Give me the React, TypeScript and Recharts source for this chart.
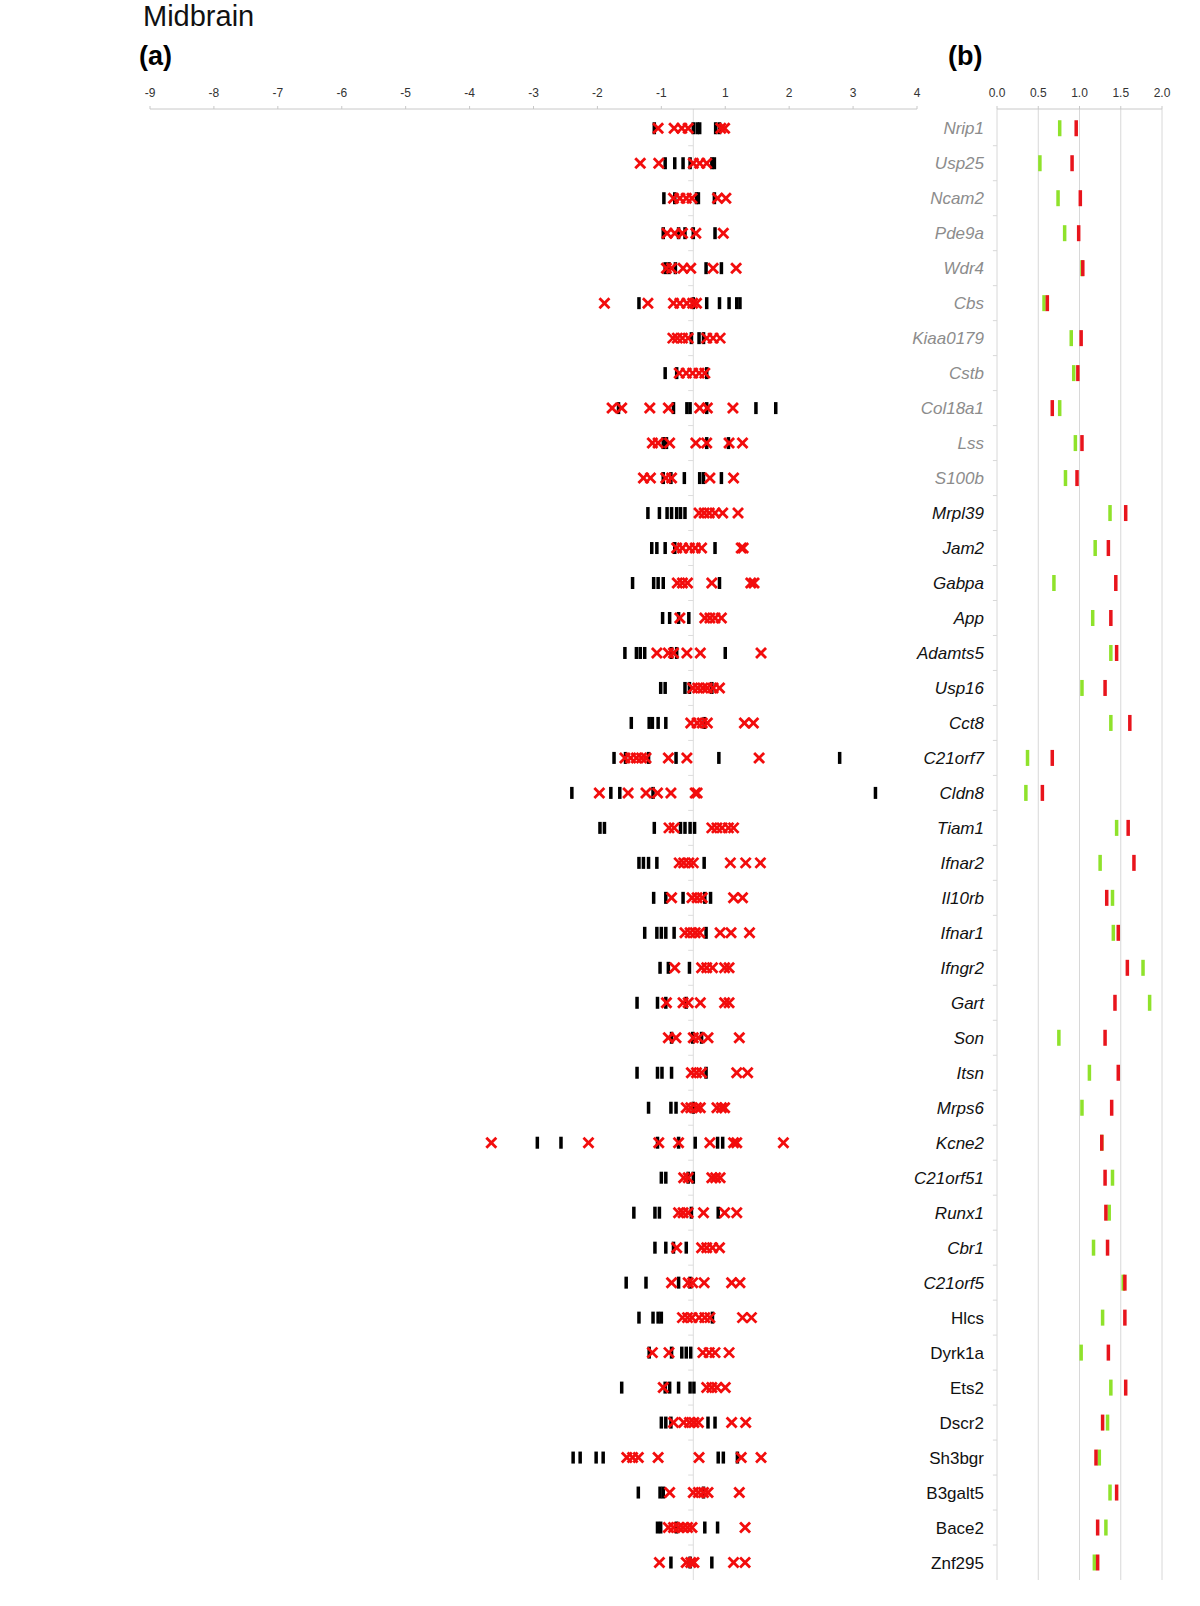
import { ScatterChart, Scatter, XAxis, YAxis, ReferenceLine, CartesianGrid } from 'recharts'

// gene order, top to bottom
const genes = [
  'Nrip1', 'Usp25', 'Ncam2', 'Pde9a', 'Wdr4', 'Cbs', 'Kiaa0179', 'Cstb', 'Col18a1', 'Lss', 'S100b',
  'Mrpl39', 'Jam2', 'Gabpa', 'App', 'Adamts5', 'Usp16', 'Cct8', 'C21orf7', 'Cldn8', 'Tiam1',
  'Ifnar2', 'Il10rb', 'Ifnar1', 'Ifngr2', 'Gart', 'Son', 'Itsn', 'Mrps6', 'Kcne2', 'C21orf51',
  'Runx1', 'Cbr1', 'C21orf5', 'Hlcs', 'Dyrk1a', 'Ets2', 'Dscr2', 'Sh3bgr', 'B3galt5', 'Bace2', 'Znf295'
]
const grayLabelCount = 11 // first genes drawn in gray
const italicLabelCount = 34 // genes drawn in italics

// panel (a): position of each mark relative to the centre line (1 unit = 1 tick step)
const blackMarks: number[][] = [
  [-0.61, 0, 0.06, 0.1, 0.35, 0.41],
  [-0.44, -0.29, -0.16, -0.05, 0.29, 0.33],
  [-0.46, -0.29, 0.05, 0.08, 0.33],
  [-0.47, -0.23, -0.13, 0, 0.34],
  [-0.44, -0.38, -0.28, 0.2, 0.44],
  [-0.85, 0, 0.21, 0.41, 0.56, 0.68, 0.73],
  [-0.03, 0.09, 0.16],
  [-0.44, -0.26, 0.21],
  [-1.17, -0.31, -0.1, -0.05, 0.21, 0.98, 1.29],
  [-0.47, -0.42, 0.21, 0.55],
  [-0.47, -0.35, -0.14, 0.1, 0.16, 0.44],
  [-0.71, -0.53, -0.41, -0.34, -0.26, -0.2, -0.13],
  [-0.65, -0.57, -0.44, -0.29, 0.34],
  [-0.95, -0.62, -0.55, -0.47, 0.41],
  [-0.48, -0.37, -0.23, -0.07],
  [-1.07, -0.89, -0.83, -0.76, -0.34, -0.26, 0.5],
  [-0.51, -0.44, -0.13, -0.06, 0.29],
  [-0.97, -0.69, -0.64, -0.55, -0.43, 0.17],
  [-1.24, -1.06, -0.7, -0.27, 0.4, 2.29],
  [-1.9, -1.29, -1.15, -0.63, 2.85],
  [-1.46, -1.39, -0.61, -0.2, -0.13, -0.05, 0.02],
  [-0.85, -0.78, -0.7, -0.57, 0.17],
  [-0.62, -0.43, -0.16, 0.18, 0.27],
  [-0.76, -0.57, -0.5, -0.43, -0.3, 0.2],
  [-0.52, -0.39, -0.06],
  [-0.88, -0.56, -0.43, -0.11],
  [-0.34, -0.01, 0.13],
  [-0.88, -0.56, -0.49, -0.34, 0.2],
  [-0.7, -0.35, -0.27, 0],
  [-2.44, -2.07, -0.56, -0.23, 0.03, 0.38, 0.46],
  [-0.5, -0.43, -0.08, 0],
  [-0.93, -0.6, -0.53, -0.03, 0.39],
  [-0.6, -0.43, -0.31, -0.11],
  [-1.05, -0.74, -0.23, -0.05],
  [-0.85, -0.63, -0.55, -0.5, 0.3],
  [-0.69, -0.34, -0.18, -0.11, -0.04],
  [-1.12, -0.44, -0.37, -0.23, -0.05, 0.01],
  [-0.5, -0.43, -0.35, 0.23, 0.34],
  [-1.88, -1.77, -1.52, -1.41, 0.39, 0.47, 0.69],
  [-0.86, -0.52, -0.47, 0.16],
  [-0.56, -0.51, -0.26, 0.18, 0.38],
  [-0.35, -0.05, 0.29]
]

const redMarks: number[][] = [
  [-0.55, -0.3, -0.18, -0.08, 0.43, 0.49],
  [-0.83, -0.54, 0, 0.1, 0.21],
  [-0.31, -0.21, -0.11, -0.02, 0.38, 0.51],
  [-0.41, -0.29, -0.17, 0.04, 0.47],
  [-0.42, -0.34, -0.16, -0.04, 0.31, 0.67],
  [-1.39, -0.71, -0.31, -0.21, -0.1, -0.01, 0.05],
  [-0.32, -0.25, -0.17, -0.08, 0.21, 0.31, 0.42],
  [-0.22, -0.11, -0.01, 0.09, 0.18],
  [-1.27, -1.12, -0.68, -0.39, 0.1, 0.22, 0.62],
  [-0.64, -0.55, -0.37, 0.04, 0.21, 0.56, 0.77],
  [-0.78, -0.67, -0.43, -0.34, 0.26, 0.63],
  [0.09, 0.17, 0.25, 0.34, 0.46, 0.7],
  [-0.26, -0.17, -0.06, 0.03, 0.13, 0.75, 0.78],
  [-0.25, -0.17, -0.09, 0.29, 0.9, 0.95],
  [-0.21, 0.18, 0.26, 0.34, 0.44],
  [-0.57, -0.39, -0.31, -0.1, 0.11, 1.06],
  [-0.01, 0.07, 0.15, 0.22, 0.31, 0.41],
  [-0.04, 0.06, 0.14, 0.22, 0.8, 0.94],
  [-1.07, -0.98, -0.89, -0.81, -0.74, -0.39, -0.1, 1.03],
  [-1.47, -1.02, -0.74, -0.56, -0.35, 0.03, 0.06],
  [-0.38, -0.3, 0.29, 0.37, 0.45, 0.55, 0.63],
  [-0.22, -0.15, -0.07, 0, 0.58, 0.82, 1.05],
  [-0.34, -0.02, 0.06, 0.14, 0.63, 0.77],
  [-0.13, -0.05, 0.03, 0.1, 0.42, 0.59, 0.88],
  [-0.29, 0.13, 0.21, 0.3, 0.49, 0.56],
  [-0.42, -0.16, -0.08, 0.11, 0.49, 0.56],
  [-0.39, -0.27, 0, 0.08, 0.23, 0.72],
  [-0.03, 0.05, 0.13, 0.68, 0.85],
  [-0.11, -0.04, 0.05, 0.11, 0.37, 0.44, 0.49],
  [-3.16, -1.64, -0.54, -0.23, 0.26, 0.63, 0.68, 1.41],
  [-0.15, -0.08, 0.29, 0.35, 0.42],
  [-0.23, -0.16, -0.08, 0.16, 0.49, 0.68],
  [-0.26, 0.13, 0.21, 0.3, 0.41],
  [-0.34, -0.08, -0.01, 0.17, 0.6, 0.73],
  [-0.17, -0.09, -0.02, 0.09, 0.18, 0.26, 0.77, 0.91],
  [-0.64, -0.38, 0.15, 0.25, 0.34, 0.56],
  [-0.47, 0.21, 0.29, 0.37, 0.5],
  [-0.31, -0.15, -0.06, 0.01, 0.08, 0.6, 0.82],
  [-1.04, -0.95, -0.86, -0.55, 0.09, 0.75, 1.06],
  [-0.37, 0, 0.08, 0.16, 0.23, 0.72],
  [-0.39, -0.31, -0.23, -0.16, -0.09, -0.02, 0.81],
  [-0.53, -0.11, -0.04, 0.01, 0.63, 0.81]
]

// panel (b)
const greenValues = [
  0.76, 0.52, 0.74, 0.82, 1.03, 0.57, 0.9, 0.93, 0.76, 0.95, 0.83, 1.37, 1.19, 0.69, 1.16, 1.38, 1.03,
  1.38, 0.37, 0.35, 1.45, 1.25, 1.4, 1.41, 1.77, 1.85, 0.75, 1.12, 1.03, 1.27, 1.4, 1.36, 1.17, 1.53,
  1.28, 1.02, 1.38, 1.34, 1.24, 1.37, 1.32, 1.18
]
const redValues = [
  0.96, 0.91, 1.01, 0.99, 1.04, 0.61, 1.02, 0.98, 0.67, 1.03, 0.97, 1.56, 1.35, 1.44, 1.38, 1.45, 1.31,
  1.61, 0.67, 0.55, 1.59, 1.66, 1.33, 1.47, 1.58, 1.43, 1.31, 1.47, 1.39, 1.27, 1.31, 1.32, 1.34, 1.55,
  1.55, 1.35, 1.56, 1.28, 1.2, 1.45, 1.22, 1.22
]

// axis a has no zero label: ticks -9..-1 then 1..4, centre line sits between -1 and 1
const axisATicks = [-8.5, -7.5, -6.5, -5.5, -4.5, -3.5, -2.5, -1.5, -0.5, 0.5, 1.5, 2.5, 3.5]
const axisBTicks = [0, 0.5, 1, 1.5, 2]

const FONT = '"Liberation Sans", Arial, Helvetica, sans-serif'
const ROW_DOMAIN: [number, number] = [-0.55, 41.5]

const toPoints = (rows: number[][]) => rows.flatMap((vals, row) => vals.map((x) => ({ x, y: row })))
const blackPoints = toPoints(blackMarks)
const redPoints = toPoints(redMarks)
const greenBars = greenValues.map((x, y) => ({ x, y }))
const redBars = redValues.map((x, y) => ({ x, y }))
const rowIndex = genes.map((_, i) => i)
const boundaries = genes.slice(1).map((_, i) => i + 0.5)

const BlackBar = (p: any) => <rect x={p.cx - 1.75} y={p.cy - 6} width={3.5} height={12} fill="#000" />

const RedCross = (p: any) => (
  <g stroke="#f20d0d" strokeWidth={2.8}>
    <line x1={p.cx - 5} y1={p.cy - 5} x2={p.cx + 5} y2={p.cy + 5} />
    <line x1={p.cx - 5} y1={p.cy + 5} x2={p.cx + 5} y2={p.cy - 5} />
  </g>
)

const barShape = (color: string) => (p: any) => (
  <rect x={p.cx - 1.75} y={p.cy - 8} width={3.5} height={16} fill={color} />
)

function GeneTick(props: any) {
  const { x, y, payload } = props
  const i = payload.value as number
  return (
    <text
      x={x}
      y={y}
      dy={6}
      textAnchor="end"
      fontFamily={FONT}
      fontSize={17}
      fontStyle={i < italicLabelCount ? 'italic' : 'normal'}
      fill={i < grayLabelCount ? '#8c8c8c' : '#111'}
    >
      {genes[i]}
    </text>
  )
}

const fmtA = (v: number) => String(v > 0 ? v + 0.5 : v - 0.5)
const axisTick = { fontSize: 12, fill: '#333', fontFamily: FONT }

export default function App() {
  return (
    <div style={{ position: 'absolute', left: 0, top: 0, width: 1200, height: 1606, background: '#fff', fontFamily: FONT }}>
      <div style={{ position: 'absolute', left: 143, top: 2, fontSize: 29, lineHeight: 1, color: '#111' }}>Midbrain</div>
      <div style={{ position: 'absolute', left: 139, top: 43, fontSize: 27, lineHeight: 1, fontWeight: 'bold' }}>(a)</div>
      <div style={{ position: 'absolute', left: 948, top: 43, fontSize: 27, lineHeight: 1, fontWeight: 'bold' }}>(b)</div>

      <div style={{ position: 'absolute', left: 0, top: 0 }}>
        <ScatterChart width={940} height={1606} margin={{ top: 79, left: 150, right: 23, bottom: 26 }}>
          <XAxis
            type="number"
            dataKey="x"
            orientation="top"
            domain={[-8.5, 3.5]}
            ticks={axisATicks}
            interval={0}
            tickFormatter={fmtA}
            height={30}
            stroke="#c8c8c8"
            tickSize={3}
            tickMargin={9}
            tick={axisTick}
          />
          <YAxis type="number" dataKey="y" domain={ROW_DOMAIN} reversed hide />
          <ReferenceLine x={0} stroke="#dcdcdc" />
          {boundaries.map((b) => (
            <ReferenceLine key={b} segment={[{ x: -0.08, y: b }, { x: 0, y: b }]} stroke="#dcdcdc" />
          ))}
          <Scatter data={blackPoints} shape={BlackBar} isAnimationActive={false} />
          <Scatter data={redPoints} shape={RedCross} isAnimationActive={false} />
        </ScatterChart>
      </div>

      <div style={{ position: 'absolute', left: 900, top: 0 }}>
        <ScatterChart width={300} height={1606} margin={{ top: 79, left: 7, right: 38, bottom: 26 }}>
          <CartesianGrid horizontal={false} stroke="#d8d8d8" />
          <XAxis
            type="number"
            dataKey="x"
            orientation="top"
            domain={[0, 2]}
            ticks={axisBTicks}
            interval={0}
            tickFormatter={(v: number) => v.toFixed(1)}
            height={30}
            stroke="#c8c8c8"
            tickSize={3}
            tickMargin={9}
            tick={axisTick}
          />
          <YAxis
            type="number"
            dataKey="y"
            domain={ROW_DOMAIN}
            reversed
            ticks={rowIndex}
            interval={0}
            width={90}
            axisLine={false}
            tickLine={false}
            tickMargin={7}
            tick={<GeneTick />}
          />
          {boundaries.map((b) => (
            <ReferenceLine
              key={b}
              segment={[{ x: -0.05, y: b }, { x: 0, y: b }]}
              stroke="#d8d8d8"
              ifOverflow="visible"
            />
          ))}
          <Scatter data={greenBars} shape={barShape('#8fe22b')} isAnimationActive={false} />
          <Scatter data={redBars} shape={barShape('#e8141c')} isAnimationActive={false} />
        </ScatterChart>
      </div>
    </div>
  )
}
